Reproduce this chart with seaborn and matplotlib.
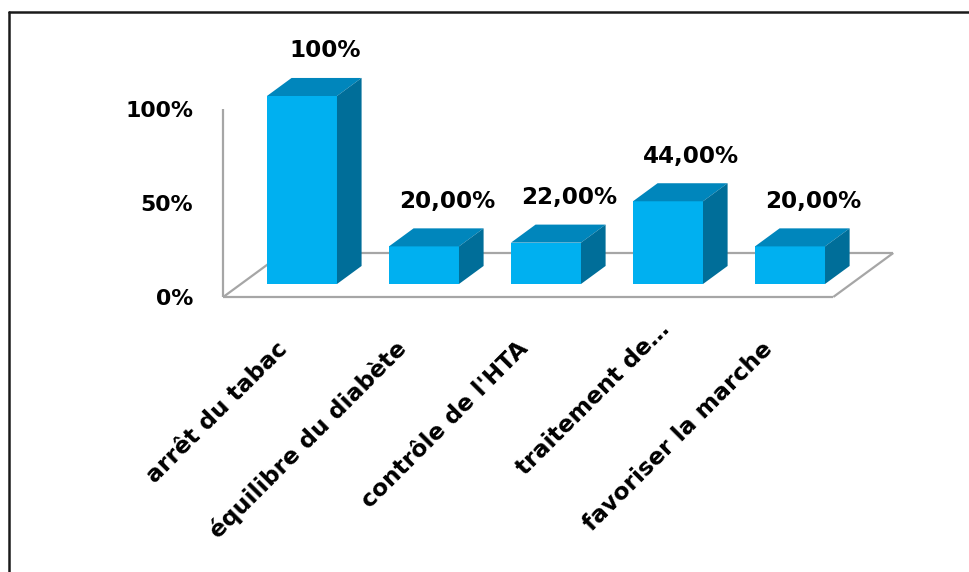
import numpy as np
import pandas as pd
import matplotlib
matplotlib.use("Agg")
import matplotlib.pyplot as plt
from matplotlib.patches import Polygon
from matplotlib.lines import Line2D
from matplotlib.transforms import ScaledTranslation
import seaborn as sns

# Data
categories = ["arrêt du tabac", "équilibre du diabète", "contrôle de l'HTA",
              "traitement de…", "favoriser la marche"]
values = [100, 20, 22, 44, 20]
value_labels = ["100%", "20,00%", "22,00%", "44,00%", "20,00%"]
y_ticks = [0, 50, 100]
y_tick_labels = ["0%", "50%", "100%"]

# Styling
FRONT = "#00B0F0"
TOP = "#0086BC"
SIDE = "#006E99"
FLOOR = "#A6A6A6"

sns.set_theme(style="white")
plt.rcParams["font.family"] = ["DejaVu Sans"]

fig = plt.figure(figsize=(9.7, 5.72), dpi=100)
ax = fig.add_axes([0.23093, 0.46406, 0.70928, 0.48315])

df = pd.DataFrame({"cat": categories, "val": values})
bar_w = 0.574
sns.barplot(data=df, x="cat", y="val", color=FRONT, saturation=1,
            width=bar_w, ax=ax, zorder=2, linewidth=0)

# Oblique projection: depth 0 = front of floor, 1 = back of floor
DX, DY = 0.4918, 23.40
D_FRONT, D_BACK = 0.295, 0.705


def proj(x, y, d):
    return x + (d - D_FRONT) * DX, y + (d - D_FRONT) * DY


# Floor outline and vertical axis
x0, x1 = -0.5, len(categories) - 0.5
floor_kw = dict(color=FLOOR, lw=1.6, zorder=0.5, clip_on=False,
                solid_capstyle="butt")
for (xa, ya, da), (xb, yb, db) in [
    ((x0, 0, 0), (x1, 0, 0)),
    ((x1, 0, 0), (x1, 0, 1)),
    ((x0, 0, 1), (x1, 0, 1)),
    ((x0, 0, 0), (x0, 0, 1)),
    ((x0, 0, 0), (x0, 100, 0)),
]:
    pa, pb = proj(xa, ya, da), proj(xb, yb, db)
    ax.plot([pa[0], pb[0]], [pa[1], pb[1]], **floor_kw)

# Top and side faces of each bar, with value labels
dx = (D_BACK - D_FRONT) * DX
dy = (D_BACK - D_FRONT) * DY
for i, v in enumerate(values):
    l, r = i - bar_w / 2, i + bar_w / 2
    ax.add_patch(Polygon([(l, v), (r, v), (r + dx, v + dy), (l + dx, v + dy)],
                         closed=True, facecolor=TOP, edgecolor="none",
                         zorder=3, clip_on=False))
    ax.add_patch(Polygon([(r, 0), (r, v), (r + dx, v + dy), (r + dx, dy)],
                         closed=True, facecolor=SIDE, edgecolor="none",
                         zorder=3, clip_on=False))
    ax.text(i + 0.189, v + dy + 11.0, value_labels[i], ha="center",
            va="baseline", fontsize=16.6, fontweight="bold", color="black",
            zorder=5, clip_on=False)

ax.set_xlim(-0.639, 5.0)
ax.set_ylim(-12, 135)

# Value axis labels sit on the front plane of the floor
ax.set_yticks([proj(x0, t, 0)[1] for t in y_ticks])
ax.set_yticklabels(y_tick_labels, fontsize=15.8, fontweight="bold")
ax.tick_params(axis="y", length=0, pad=22.3, colors="black")

# Rotated category labels
ax.set_xticks(range(len(categories)))
ax.set_xticklabels(categories, fontsize=16.8, fontweight="bold")
ax.tick_params(axis="x", length=0, pad=28.0, colors="black")
label_nudge = [(0.03, 0), (0, 0), (0, 0), (0.19, 0.2), (0, 0)]
for lab, (nx, ny) in zip(ax.get_xticklabels(), label_nudge):
    lab.set_rotation(45)
    lab.set_ha("right")
    lab.set_va("center")
    lab.set_rotation_mode("anchor")
    lab.set_transform(lab.get_transform()
                      + ScaledTranslation(-0.21 + nx, ny, fig.dpi_scale_trans))

ax.set_xlabel("")
ax.set_ylabel("")
for s in ax.spines.values():
    s.set_visible(False)
ax.patch.set_alpha(0)

# Chart frame
fig.add_artist(Line2D([9 / 970, 9 / 970], [0, 1 - 11.5 / 572],
                      transform=fig.transFigure, color="#1a1a1a", lw=1.8))
fig.add_artist(Line2D([9 / 970, 1], [1 - 11.5 / 572, 1 - 11.5 / 572],
                      transform=fig.transFigure, color="#1a1a1a", lw=1.8))

fig.savefig("out.png", dpi=100, facecolor="white")
